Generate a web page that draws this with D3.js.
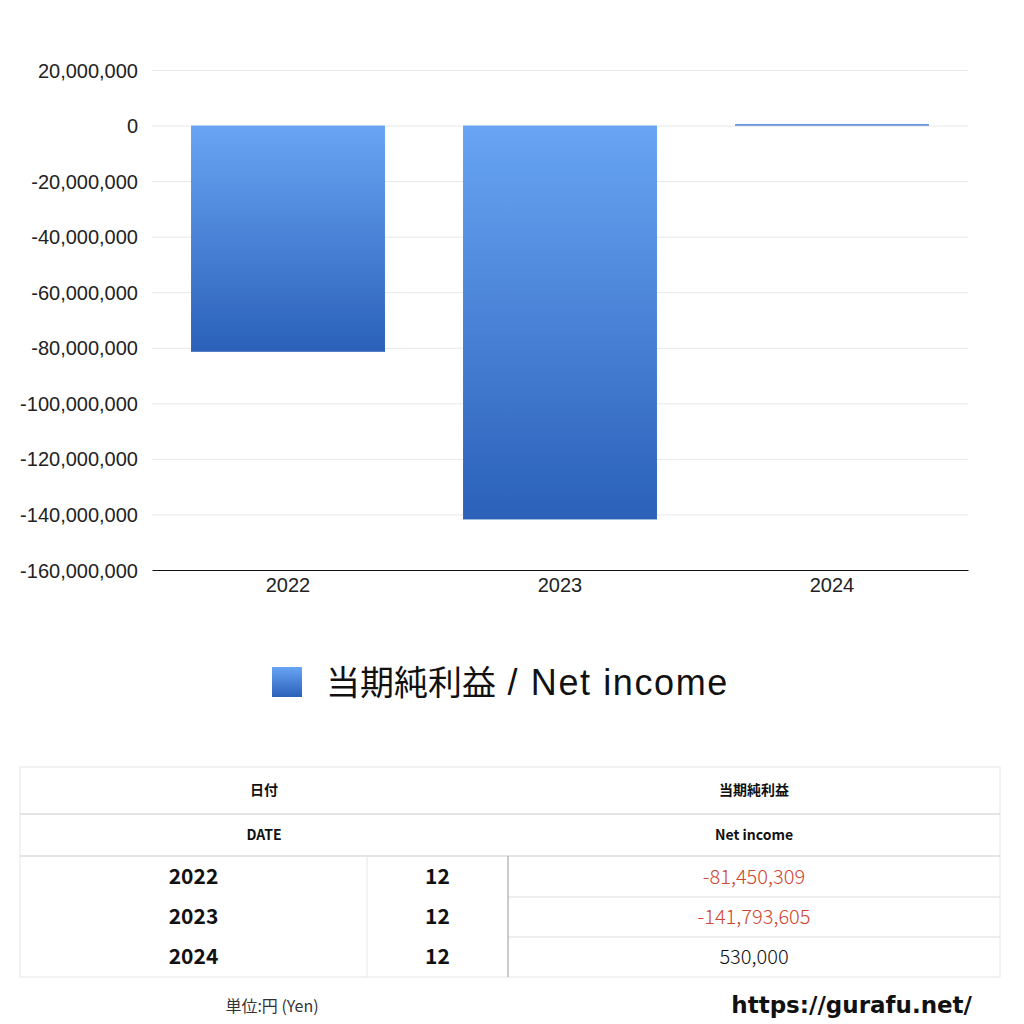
<!DOCTYPE html>
<html>
<head>
<meta charset="utf-8">
<script src="https://cdn.jsdelivr.net/npm/d3@7"></script>
<style>
    body { margin: 0; background: #fff; }
    svg text { fill: #111; }
    .tick text { font-family: "Liberation Sans", Arial, sans-serif; font-size: 20px; fill: #222; }
    .grid line { stroke: #e8e8e8; }
    .cell { font-family: "Noto Sans CJK JP", "Noto Sans", sans-serif; }
</style>
</head>
<body>
<div id="chart"></div>
<script>
// data
const years = ["2022", "2023", "2024"];
const months = ["12", "12", "12"];
const netIncome = [-81450309, -141793605, 530000];
const yTicks = [20000000, 0, -20000000, -40000000, -60000000, -80000000, -100000000, -120000000, -140000000, -160000000];
const seriesLabelJa = "当期純利益";
const seriesLabelEn = " / Net income";

const W = 1024, H = 1024;
const margin = {top: 70, right: 56, bottom: 454, left: 152};
const width = W - margin.left - margin.right;
const height = H - margin.top - margin.bottom;

// plain hyphen for negatives, like the original
const fmt = d3.formatLocale({decimal: ".", thousands: ",", grouping: [3], currency: ["", ""], minus: "-"}).format(",");

const svg = d3.select("#chart").append("svg")
    .attr("width", W)
    .attr("height", H);

// bar gradient
const grad = svg.append("defs").append("linearGradient")
    .attr("id", "barGrad")
    .attr("x1", 0).attr("y1", 0).attr("x2", 0).attr("y2", 1);
grad.append("stop").attr("offset", "0%").attr("stop-color", "#68a4f3");
grad.append("stop").attr("offset", "100%").attr("stop-color", "#2b61b9");

const g = svg.append("g")
    .attr("transform", "translate(" + margin.left + "," + margin.top + ")");

const x = d3.scaleBand()
    .domain(years)
    .range([0, width])
    .paddingInner(0.287)
    .paddingOuter(0.1435);

const y = d3.scaleLinear()
    .domain([-160000000, 20000000])
    .range([height, 0]);

// gridlines
g.append("g")
    .attr("class", "grid")
    .call(d3.axisLeft(y).tickValues(yTicks).tickSize(-width).tickFormat(""))
    .call(a => a.select(".domain").remove());

// y axis labels
g.append("g")
    .call(d3.axisLeft(y).tickValues(yTicks).tickSize(0).tickPadding(14).tickFormat(fmt))
    .call(a => a.select(".domain").remove())
    .selectAll("text").attr("dy", "0.35em");

// bars
g.selectAll("rect.bar")
    .data(netIncome)
    .join("rect")
    .attr("class", "bar")
    .attr("x", (d, i) => x(years[i]))
    .attr("width", x.bandwidth())
    .attr("y", d => y(Math.max(0, d)))
    .attr("height", d => Math.abs(y(d) - y(0)))
    .attr("fill", "url(#barGrad)");

// x axis
g.append("g")
    .attr("transform", "translate(0," + height + ")")
    .call(d3.axisBottom(x).tickSize(0).tickPadding(8))
    .call(a => a.select(".domain").attr("stroke", "#111"));

// legend
const legend = svg.append("g").attr("transform", "translate(272,667)");
legend.append("rect")
    .attr("width", 30).attr("height", 30)
    .attr("fill", "url(#barGrad)");
const legText = legend.append("text")
    .attr("x", 54).attr("y", 28)
    .style("font-family", "'Noto Sans CJK JP', sans-serif")
    .style("font-size", "34px");
legText.append("tspan").text(seriesLabelJa);
legText.append("tspan")
    .style("font-family", "'Liberation Sans', sans-serif")
    .style("font-size", "36px")
    .style("letter-spacing", "1.6px")
    .attr("xml:space", "preserve")
    .text(seriesLabelEn);

// table
const tbl = svg.append("g").attr("class", "cell");
const tx0 = 20, tx1 = 1000, colA = 367, colB = 508;
const rowY = [767, 814, 856, 897, 937, 977];

tbl.append("rect")
    .attr("x", tx0).attr("y", rowY[0])
    .attr("width", tx1 - tx0).attr("height", rowY[5] - rowY[0])
    .attr("fill", "none").attr("stroke", "#e6e6e6");

[1, 2].forEach(i => tbl.append("line")
    .attr("x1", tx0).attr("x2", tx1)
    .attr("y1", rowY[i]).attr("y2", rowY[i])
    .attr("stroke", "#dcdcdc").attr("stroke-width", 1.5));
[3, 4].forEach(i => tbl.append("line")
    .attr("x1", colB).attr("x2", tx1)
    .attr("y1", rowY[i]).attr("y2", rowY[i])
    .attr("stroke", "#dcdcdc"));
tbl.append("line")
    .attr("x1", colA).attr("x2", colA).attr("y1", rowY[2]).attr("y2", rowY[5])
    .attr("stroke", "#e6e6e6");
tbl.append("line")
    .attr("x1", colB).attr("x2", colB).attr("y1", rowY[2]).attr("y2", rowY[5])
    .attr("stroke", "#999");

const headers = [["日付", "当期純利益"], ["DATE", "Net income"]];
headers.forEach((row, r) => {
    tbl.selectAll(null).data(row).join("text")
        .attr("x", (d, i) => i === 0 ? (tx0 + colB) / 2 : (colB + tx1) / 2)
        .attr("y", (rowY[r] + rowY[r + 1]) / 2)
        .attr("dy", "0.35em")
        .attr("text-anchor", "middle")
        .style("font-size", "14px")
        .style("font-weight", "bold")
        .text(d => d);
});

netIncome.forEach((v, i) => {
    const cy = (rowY[i + 2] + rowY[i + 3]) / 2;
    tbl.append("text")
        .attr("x", (tx0 + colA) / 2).attr("y", cy).attr("dy", "0.35em")
        .attr("text-anchor", "middle")
        .style("font-size", "21px").style("font-weight", "bold")
        .text(years[i]);
    tbl.append("text")
        .attr("x", (colA + colB) / 2).attr("y", cy).attr("dy", "0.35em")
        .attr("text-anchor", "middle")
        .style("font-size", "21px").style("font-weight", "bold")
        .text(months[i]);
    tbl.append("text")
        .attr("x", (colB + tx1) / 2).attr("y", cy).attr("dy", "0.35em")
        .attr("text-anchor", "middle")
        .style("font-size", "20px")
        .style("font-weight", 300)
        .style("fill", v < 0 ? "#d0452f" : "#111")
        .text(fmt(v));
});

// footer
svg.append("text")
    .attr("x", 272).attr("y", 1012)
    .attr("text-anchor", "middle")
    .style("font-family", "'Noto Sans CJK JP', sans-serif")
    .style("font-size", "16px")
    .style("fill", "#333")
    .text("単位:円 (Yen)");
svg.append("text")
    .attr("x", 972).attr("y", 1013)
    .attr("text-anchor", "end")
    .style("font-family", "'DejaVu Sans', sans-serif")
    .style("font-size", "23px")
    .style("font-weight", "bold")
    .text("https://gurafu.net/");
</script>
</body>
</html>
